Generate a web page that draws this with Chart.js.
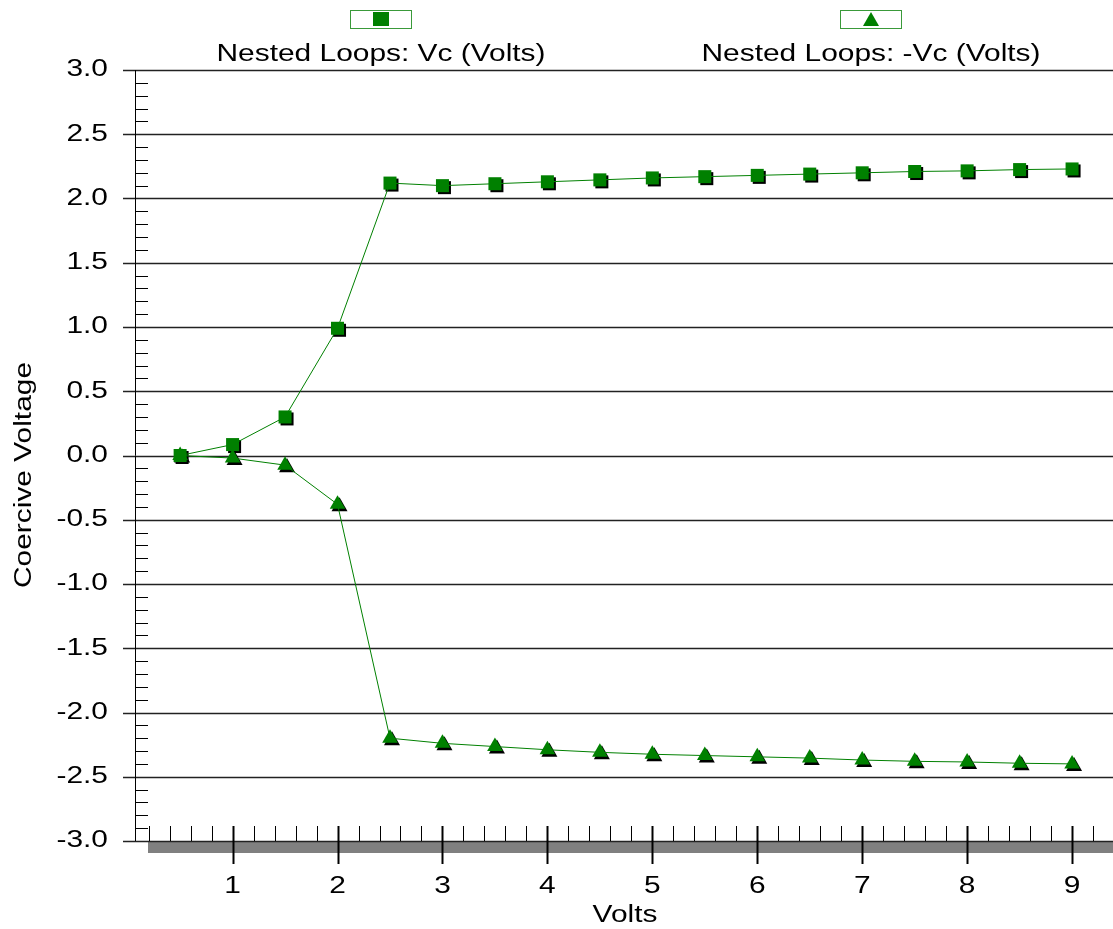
<!DOCTYPE html>
<html>
<head>
<meta charset="utf-8">
<title>Nested Loops</title>
<script src="https://cdn.jsdelivr.net/npm/chart.js@4/dist/chart.umd.min.js"></script>
<style>
  html, body { margin: 0; padding: 0; background: #fff; }
  canvas { display: block; }
</style>
</head>
<body>
<canvas id="loops" width="1113" height="929"></canvas>
<script>
const volts = [0.5, 1, 1.5, 2, 2.5, 3, 3.5, 4, 4.5, 5, 5.5, 6, 6.5, 7, 7.5, 8, 8.5, 9];
const vcPlus = [0.0, 0.085, 0.30, 0.99, 2.12, 2.10, 2.115, 2.13, 2.145, 2.16, 2.17, 2.18, 2.19, 2.20, 2.21, 2.215, 2.225, 2.23];
const vcMinus = [0.0, -0.02, -0.075, -0.38, -2.20, -2.24, -2.265, -2.29, -2.31, -2.325, -2.335, -2.345, -2.355, -2.37, -2.38, -2.385, -2.395, -2.40];
const seriesNames = ['Nested Loops: Vc (Volts)', 'Nested Loops: -Vc (Volts)'];
const xTicks = [1, 2, 3, 4, 5, 6, 7, 8, 9];
const yTicks = [3.0, 2.5, 2.0, 1.5, 1.0, 0.5, 0.0, -0.5, -1.0, -1.5, -2.0, -2.5, -3.0];

const GREEN = '#008000';
const FONT = '23px "Liberation Sans", Arial, sans-serif';
const STRETCH = 1.3; // the original lettering is drawn wide

const toPoints = ys => volts.map((x, i) => ({ x: x, y: ys[i] }));

function wideText(ctx, str, x, y, align) {
  ctx.save();
  ctx.translate(x, y);
  ctx.scale(STRETCH, 1);
  ctx.textAlign = align;
  ctx.fillText(str, 0, 0);
  ctx.restore();
}

// axes, grid, ticks, floor bar and legend, all placed from the chart scales
const frame = {
  id: 'frame',
  beforeDatasetsDraw(chart) {
    const { ctx, chartArea: a, scales: { x, y } } = chart;
    ctx.save();
    // grey floor under the x axis
    ctx.fillStyle = '#808080';
    ctx.fillRect(148, a.bottom, a.right - 148, 12);

    // horizontal grid lines
    ctx.strokeStyle = '#222';
    ctx.lineWidth = 1.5;
    yTicks.forEach(v => {
      const py = Math.round(y.getPixelForValue(v)) + 0.5;
      ctx.beginPath();
      ctx.moveTo(a.left - 12, py);
      ctx.lineTo(a.right, py);
      ctx.stroke();
    });

    // y axis line and minor ticks
    ctx.lineWidth = 1;
    ctx.strokeStyle = '#000';
    ctx.beginPath();
    ctx.moveTo(a.left + 0.5, a.top);
    ctx.lineTo(a.left + 0.5, a.bottom);
    ctx.stroke();
    for (let k = -30; k <= 30; k++) {
      if (k % 5 === 0) continue;
      const py = Math.round(y.getPixelForValue(k / 10)) + 0.5;
      ctx.beginPath();
      ctx.moveTo(a.left, py);
      ctx.lineTo(a.left + 13, py);
      ctx.stroke();
    }

    // x ticks: minor every 0.2 above the axis, major at integers
    for (let k = 1; k <= 46; k++) {
      const v = k / 5;
      const px = Math.round(x.getPixelForValue(v)) + 0.5;
      if (px > a.right) break;
      ctx.beginPath();
      if (k % 5 === 0) {
        ctx.lineWidth = 2;
        ctx.moveTo(px, a.bottom - 15);
        ctx.lineTo(px, a.bottom + 23);
      } else {
        ctx.lineWidth = 1;
        ctx.moveTo(px, a.bottom - 15);
        ctx.lineTo(px, a.bottom);
      }
      ctx.stroke();
    }

    // tick labels
    ctx.fillStyle = '#000';
    ctx.font = FONT;
    ctx.textBaseline = 'middle';
    yTicks.forEach(v => wideText(ctx, v.toFixed(1), a.left - 27, y.getPixelForValue(v), 'right'));
    xTicks.forEach(v => wideText(ctx, String(v), x.getPixelForValue(v), a.bottom + 46, 'center'));

    // axis titles
    wideText(ctx, 'Volts', 625, 916, 'center');
    ctx.save();
    ctx.translate(25, 475);
    ctx.rotate(-Math.PI / 2);
    wideText(ctx, 'Coercive Voltage', 0, 0, 'center');
    ctx.restore();

    // legend
    const legend = [{ cx: 381, style: 'rect' }, { cx: 871, style: 'triangle' }];
    legend.forEach((it, i) => {
      ctx.strokeStyle = '#3a9a3a';
      ctx.lineWidth = 1;
      ctx.strokeRect(it.cx - 30.5, 10.5, 61, 18);
      ctx.fillStyle = GREEN;
      if (it.style === 'rect') {
        ctx.fillRect(it.cx - 8, 12, 16, 14);
      } else {
        ctx.beginPath();
        ctx.moveTo(it.cx, 12);
        ctx.lineTo(it.cx + 8, 26);
        ctx.lineTo(it.cx - 8, 26);
        ctx.closePath();
        ctx.fill();
      }
      ctx.fillStyle = '#000';
      wideText(ctx, seriesNames[i], it.cx, 55, 'center');
    });

    // black drop shadows behind the markers
    ctx.fillStyle = '#000';
    chart.data.datasets.forEach((ds, i) => {
      chart.getDatasetMeta(i).data.forEach(p => {
        const sx = p.x + 2, sy = p.y + 2;
        if (ds.pointStyle === 'rect') {
          ctx.fillRect(sx - 6.5, sy - 6.5, 13, 13);
        } else {
          ctx.beginPath();
          ctx.moveTo(sx, sy - 9);
          ctx.lineTo(sx + 8, sy + 5);
          ctx.lineTo(sx - 8, sy + 5);
          ctx.closePath();
          ctx.fill();
        }
      });
    });
    ctx.restore();
  }
};

new Chart(document.getElementById('loops'), {
  type: 'scatter',
  data: {
    datasets: [{
      label: seriesNames[0],
      data: toPoints(vcPlus),
      showLine: true,
      borderColor: GREEN,
      borderWidth: 1,
      backgroundColor: GREEN,
      pointStyle: 'rect',
      pointRadius: 9.2,
      pointBorderWidth: 0,
      pointBackgroundColor: GREEN
    }, {
      label: seriesNames[1],
      data: toPoints(vcMinus),
      showLine: true,
      borderColor: GREEN,
      borderWidth: 1,
      backgroundColor: GREEN,
      pointStyle: 'triangle',
      pointRadius: 9,
      pointBorderWidth: 0,
      pointBackgroundColor: GREEN
    }]
  },
  options: {
    responsive: false,
    animation: false,
    layout: { autoPadding: false, padding: { left: 135, top: 70, right: 0, bottom: 88 } },
    plugins: { legend: { display: false }, tooltip: { enabled: false } },
    scales: {
      x: { type: 'linear', min: 0.07, max: 9.39, display: false },
      y: { type: 'linear', min: -3, max: 3, display: false }
    }
  },
  plugins: [frame]
});
</script>
</body>
</html>
